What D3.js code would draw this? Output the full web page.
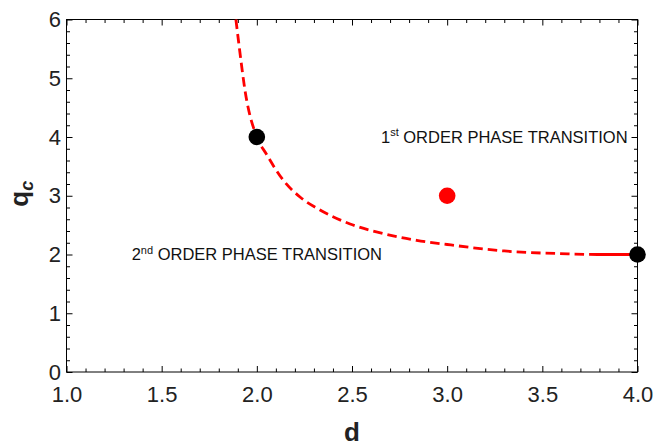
<!DOCTYPE html>
<html>
<head>
<meta charset="utf-8">
<script src="https://cdn.jsdelivr.net/npm/d3@7"></script>
<style>
  body { margin: 0; background: #fff; }
  svg { font-family: "Liberation Sans", Arial, sans-serif; }
</style>
</head>
<body>
<svg id="chart" width="666" height="446"></svg>
<script>
/*****************************/
/*    Data    */
/*****************************/
const curveD = [1.89, 1.905, 1.94, 2.0, 2.05, 2.14, 2.23, 2.32, 2.49, 2.67, 2.84, 3.0, 3.3, 3.65, 3.79, 4.0];
const curveQ = [6.0, 5.6, 4.75, 4.0, 3.71, 3.26, 2.97, 2.78, 2.52, 2.35, 2.24, 2.17, 2.06, 2.01, 2.0, 2.0];
const solidD = [3.79, 4.0];
const solidQ = [2.0, 2.0];

const blackPoints = [{ d: 2, q: 4 }, { d: 4, q: 2 }];
const redPoints   = [{ d: 3, q: 3 }];

const xMajor = [1.0, 1.5, 2.0, 2.5, 3.0, 3.5, 4.0];
const yMajor = [0, 1, 2, 3, 4, 5, 6];

const labels = [
  { d: 3.3, q: 4.0, num: "1", sup: "st", text: " ORDER PHASE TRANSITION" },
  { d: 2.0, q: 2.0, num: "2", sup: "nd", text: " ORDER PHASE TRANSITION" }
];

/*****************************/
/*        Chart frame        */
/*****************************/
const margin = { top: 19.5, right: 28.5, bottom: 74, left: 66.5 };
const width = 666, height = 446;
const innerWidth = width - margin.left - margin.right;
const innerHeight = height - margin.top - margin.bottom;

const svg = d3.select("#chart");
const inner = svg.append("g")
  .attr("transform", `translate(${margin.left},${margin.top})`);

const xScale = d3.scaleLinear().domain([1, 4]).range([0, innerWidth]);
const yScale = d3.scaleLinear().domain([0, 6]).range([innerHeight, 0]);

const xMinor = d3.range(1, 4.001, 0.1).filter(v => Math.abs(v * 2 - Math.round(v * 2)) > 1e-6);
const yMinor = d3.range(0, 6.001, 0.2).filter(v => Math.abs(v - Math.round(v)) > 1e-6);

const styleAxis = (g) => {
  g.select(".domain").remove();
  g.selectAll("line").attr("stroke", "#000").attr("stroke-width", 1);
};

const styleLabels = (g) => {
  g.selectAll("text")
    .attr("font-size", 22)
    .attr("fill", "#222")
    .attr("font-family", "Liberation Sans, Arial, sans-serif");
};

// ticks without labels
const addTicks = (axis, values, size, transform) => {
  inner.append("g")
    .attr("transform", transform)
    .call(axis(xOrY(axis)).tickValues(values).tickSizeInner(-size).tickSizeOuter(0).tickFormat(""))
    .call(styleAxis)
    .call(g => g.selectAll("text").remove());
};
const xOrY = (axis) => (axis === d3.axisBottom || axis === d3.axisTop) ? xScale : yScale;

// bottom
inner.append("g").attr("transform", `translate(0,${innerHeight})`)
  .call(d3.axisBottom(xScale).tickValues(xMajor).tickSizeInner(-6).tickSizeOuter(0)
    .tickPadding(14).tickFormat(d3.format(".1f")))
  .call(styleAxis)
  .call(styleLabels);
addTicks(d3.axisBottom, xMinor, 3.5, `translate(0,${innerHeight})`);

// top
addTicks(d3.axisTop, xMajor, 6, null);
addTicks(d3.axisTop, xMinor, 3.5, null);

// left
inner.append("g")
  .call(d3.axisLeft(yScale).tickValues(yMajor).tickSizeInner(-6).tickSizeOuter(0)
    .tickPadding(5.5).tickFormat(d3.format("d")))
  .call(styleAxis)
  .call(styleLabels);
addTicks(d3.axisLeft, yMinor, 3.5, null);

// right
addTicks(d3.axisRight, yMajor, 6, `translate(${innerWidth},0)`);
addTicks(d3.axisRight, yMinor, 3.5, `translate(${innerWidth},0)`);

inner.append("rect")
  .attr("width", innerWidth)
  .attr("height", innerHeight)
  .attr("fill", "none")
  .attr("stroke", "#000")
  .attr("stroke-width", 1);

/*****************************/
/*       Curve & points      */
/*****************************/
const line = d3.line()
  .x(d => xScale(d[0]))
  .y(d => yScale(d[1]))
  .curve(d3.curveMonotoneX);

const plot = inner.append("g");

plot.append("path")
  .attr("d", line(d3.zip(curveD, curveQ)))
  .attr("fill", "none")
  .attr("stroke", "#ff0000")
  .attr("stroke-width", 2.8)
  .attr("stroke-dasharray", "9.5,5");

plot.append("path")
  .attr("d", line(d3.zip(solidD, solidQ)))
  .attr("fill", "none")
  .attr("stroke", "#ff0000")
  .attr("stroke-width", 2.8);

plot.selectAll(".black-pt")
  .data(blackPoints)
  .join("circle")
    .attr("class", "black-pt")
    .attr("cx", d => xScale(d.d))
    .attr("cy", d => yScale(d.q))
    .attr("r", 8.3)
    .attr("fill", "#000");

plot.selectAll(".red-pt")
  .data(redPoints)
  .join("circle")
    .attr("class", "red-pt")
    .attr("cx", d => xScale(d.d))
    .attr("cy", d => yScale(d.q))
    .attr("r", 8.3)
    .attr("fill", "#ff0000");

/*****************************/
/*        Annotations        */
/*****************************/
const ann = plot.selectAll(".ann")
  .data(labels)
  .join("text")
    .attr("class", "ann")
    .attr("x", d => xScale(d.d))
    .attr("y", d => yScale(d.q) + 5.8)
    .attr("text-anchor", "middle")
    .attr("font-size", 16.5)
    .attr("fill", "#111");

ann.append("tspan").text(d => d.num);
ann.append("tspan").attr("font-size", 11).attr("dy", -6.5).text(d => d.sup);
ann.append("tspan").attr("dy", 6.5).text(d => d.text);

/*****************************/
/*        Axis titles        */
/*****************************/
svg.append("text")
  .attr("x", margin.left + innerWidth / 2)
  .attr("y", 441)
  .attr("text-anchor", "middle")
  .attr("font-size", 26)
  .attr("font-weight", "bold")
  .attr("fill", "#222")
  .text("d");

const yTitle = svg.append("text")
  .attr("transform", `translate(28,${margin.top + yScale(3) - 2}) rotate(-90)`)
  .attr("text-anchor", "middle")
  .attr("font-size", 26)
  .attr("font-weight", "bold")
  .attr("fill", "#222");
yTitle.append("tspan").text("q");
yTitle.append("tspan").attr("font-size", 18).attr("font-style", "italic").attr("dy", 5).text("c");
</script>
</body>
</html>
